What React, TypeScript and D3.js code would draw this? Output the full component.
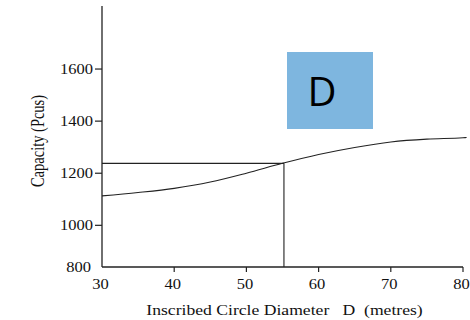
import React from 'react';
import * as d3 from 'd3';

// readings
const diameter = [30, 35, 40, 45, 50, 55, 60, 65, 70, 75, 80, 80.5];
const capacity = [1113, 1126, 1142, 1166, 1200, 1238, 1272, 1299, 1320, 1331, 1336, 1337];
const xTicks = [30, 40, 50, 60, 70, 80];
const yTicks = [1000, 1200, 1400, 1600];
const yOriginLabel = '800';
const readD = 55.2;
const readCapacity = 1238;
const xTitle = 'Inscribed Circle Diameter   D  (metres)';
const yTitle = 'Capacity (Pcus)';
const boxLabel = 'D';

const W = 470;
const H = 320;
const serif = '"Liberation Serif", "Times New Roman", serif';

const App = () => {
  const x = d3.scaleLinear().domain([30, 80]).range([102, 463]);
  const y = d3.scaleLinear().domain([840, 1842]).range([267, 6]);

  const pts: [number, number][] = diameter.map((d, i) => [d, capacity[i]]);
  const line = d3.line<[number, number]>()
    .x(d => x(d[0]))
    .y(d => y(d[1]))
    .curve(d3.curveMonotoneX);

  const stretch = 1.18;
  const x0 = x(30);
  const yb = y(840);

  return (
    <svg width={W} height={H} style={{ position: 'absolute', left: 0, top: 0 }}>
      <rect width={W} height={H} fill="#fff" />

      {/* curve and read-off lines */}
      <path d={line(pts) || ''} fill="none" stroke="#222" strokeWidth={1.1} />
      <line x1={x0} x2={x(readD)} y1={y(readCapacity)} y2={y(readCapacity)} stroke="#222" strokeWidth={1.1} />
      <line x1={x(readD)} x2={x(readD)} y1={y(readCapacity)} y2={yb} stroke="#222" strokeWidth={1.1} />

      {/* axes */}
      <line x1={x0} x2={x0} y1={y(1842)} y2={yb} stroke="#222" strokeWidth={1.3} />
      <line x1={x0} x2={x(80)} y1={yb} y2={yb} stroke="#222" strokeWidth={1.3} />

      {xTicks.map(t => (
        <g key={t}>
          {t !== 30 && <line x1={x(t)} x2={x(t)} y1={yb} y2={yb + 5} stroke="#222" strokeWidth={1.2} />}
          <text transform={`translate(${x(t) - 1.5},289) scale(${stretch},1)`} textAnchor="middle"
            fontFamily={serif} fontSize={14} fill="#111">{t}</text>
        </g>
      ))}

      {yTicks.map(t => (
        <g key={t}>
          <line x1={x0 - 7} x2={x0} y1={y(t)} y2={y(t)} stroke="#222" strokeWidth={1.2} />
          <text transform={`translate(${x0 - 9},${y(t) + 5}) scale(${stretch},1)`} textAnchor="end"
            fontFamily={serif} fontSize={14} fill="#111">{t}</text>
        </g>
      ))}
      <text transform={`translate(${x0 - 11},${yb + 5}) scale(${stretch},1)`} textAnchor="end"
        fontFamily={serif} fontSize={14} fill="#111">{yOriginLabel}</text>

      <text transform={`translate(284.5,315) scale(1.26,1)`} textAnchor="middle"
        fontFamily={serif} fontSize={14} fill="#111" style={{ whiteSpace: 'pre' }}>{xTitle}</text>
      <text transform={`translate(44,141) scale(1.35,1) rotate(-90)`} textAnchor="middle"
        fontFamily={serif} fontSize={14.5} fill="#111">{yTitle}</text>

      {/* label box */}
      <rect x={287} y={52} width={86} height={77} fill="#7EB6DF" />
      <text x={322} y={106} textAnchor="middle" fontFamily='"Open Sans", sans-serif' fontSize={40} fill="#000">{boxLabel}</text>
    </svg>
  );
};

export default App;
